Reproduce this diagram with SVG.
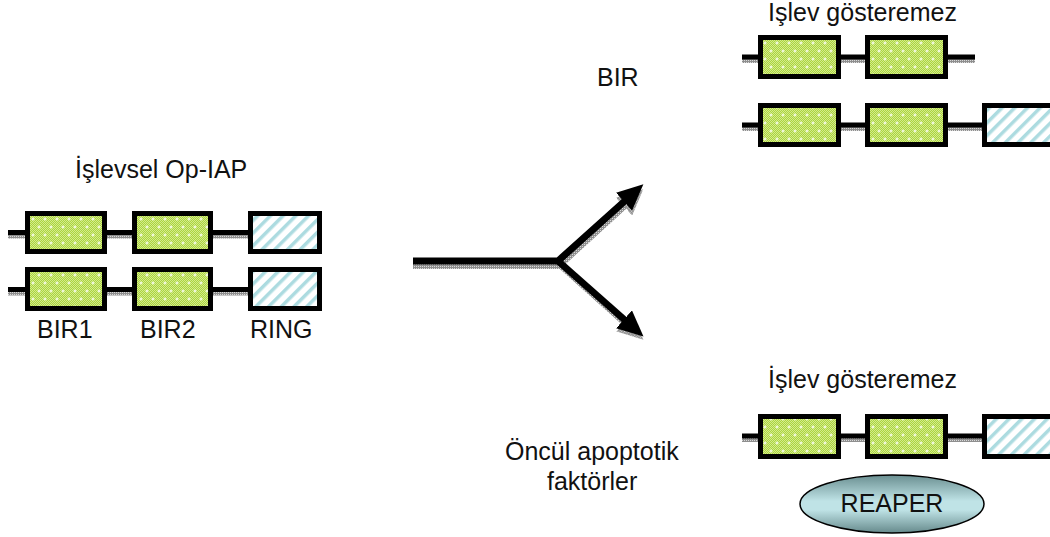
<svg xmlns="http://www.w3.org/2000/svg" width="1050" height="537" viewBox="0 0 1050 537">
  <defs>
    <style>
      text { font-family: "Liberation Sans", Arial, sans-serif; font-size: 25px; fill: #111; }
      .bir { fill: url(#birFill); stroke: #000; stroke-width: 5; }
      .ring { fill: url(#ringFill); stroke: #000; stroke-width: 5; }
      .link { stroke: #000; stroke-width: 5; fill: none; }
      .linkShadow { stroke: url(#shade); stroke-width: 4; fill: none; }
      .fork { stroke: #000; stroke-width: 7; fill: none; }
      .forkShadow { stroke: url(#shade); stroke-width: 6; fill: none; }
    </style>
    <!-- fine halftone used for the green domains -->
    <pattern id="dither" width="2" height="2" patternUnits="userSpaceOnUse">
      <rect width="2" height="2" fill="#acd43f"/>
      <rect width="1" height="1" fill="#d3ec8c"/>
      <rect x="1" y="1" width="1" height="1" fill="#d3ec8c"/>
    </pattern>
    <!-- green BIR domain fill: halftone plus small white crosses -->
    <pattern id="birFill" width="12" height="16" patternUnits="userSpaceOnUse">
      <rect width="12" height="16" fill="url(#dither)"/>
      <path d="M3 1.5v3M1.5 3h3M9 9.5v3M7.5 11h3" stroke="#fff" stroke-width="1"/>
    </pattern>
    <!-- RING domain fill: pale diagonal stripes -->
    <pattern id="ringFill" width="9" height="9" patternUnits="userSpaceOnUse" patternTransform="rotate(45)">
      <rect width="9" height="9" fill="#fff"/>
      <rect width="3.5" height="9" fill="#acdbe0"/>
    </pattern>
    <!-- grey stipple for line shadows -->
    <pattern id="shade" width="2" height="2" patternUnits="userSpaceOnUse">
      <rect width="2" height="2" fill="#8f8f8f"/>
      <rect width="1" height="1" fill="#d8d8d8"/>
    </pattern>
    <linearGradient id="reaperFill" x1="0" y1="0" x2="0" y2="1">
      <stop offset="0" stop-color="#6a8f91"/>
      <stop offset="0.45" stop-color="#bfe3e6"/>
      <stop offset="0.6" stop-color="#bfe3e6"/>
      <stop offset="1" stop-color="#668a8c"/>
    </linearGradient>
    <marker id="head" markerWidth="26" markerHeight="24" refX="4" refY="12" orient="auto" markerUnits="userSpaceOnUse">
      <path d="M0 0L26 12L0 24z" fill="#000"/>
    </marker>
    <marker id="headShadow" markerWidth="26" markerHeight="24" refX="4" refY="12" orient="auto" markerUnits="userSpaceOnUse">
      <path d="M0 0L26 12L0 24z" fill="url(#shade)"/>
    </marker>
  </defs>

  <!-- connectors: the branching arrow -->
  <g id="connectors">
    <path class="forkShadow" d="M413 266H559L627 204" marker-end="url(#headShadow)"/>
    <path class="forkShadow" d="M561 266L627 325" marker-end="url(#headShadow)"/>
    <path class="fork" d="M413 261H558L627 199" marker-end="url(#head)"/>
    <path class="fork" d="M558 261L627 322" marker-end="url(#head)"/>
  </g>

  <!-- functional Op-IAP (left) -->
  <g id="functional">
    <text x="75" y="178">İşlevsel Op-IAP</text>
    <path class="linkShadow" d="M8 236.5H250M8 293.5H250"/>
    <path class="link" d="M8 232.5H250M8 289.5H250"/>
    <rect class="bir" x="27.5" y="213.5" width="77" height="38"/>
    <rect class="bir" x="134.5" y="213.5" width="76" height="38"/>
    <rect class="ring" x="250.5" y="213.5" width="69" height="38"/>
    <rect class="bir" x="27.5" y="269.5" width="77" height="39"/>
    <rect class="bir" x="134.5" y="269.5" width="76" height="39"/>
    <rect class="ring" x="250.5" y="269.5" width="69" height="39"/>
    <text x="37" y="338">BIR1</text>
    <text x="140" y="338">BIR2</text>
    <text x="250" y="338">RING</text>
  </g>

  <!-- upper branch: BIR -->
  <text id="label-bir" x="597" y="86">BIR</text>
  <g id="nonfunctional-bir">
    <text x="768" y="21">Işlev gösteremez</text>
    <path class="linkShadow" d="M742 61H975M742 129H985"/>
    <path class="link" d="M742 57H975M742 125H985"/>
    <rect class="bir" x="760.5" y="37.5" width="78" height="39"/>
    <rect class="bir" x="867.5" y="37.5" width="78" height="39"/>
    <rect class="bir" x="760.5" y="105.5" width="78" height="39"/>
    <rect class="bir" x="867.5" y="105.5" width="78" height="39"/>
    <rect class="ring" x="984.5" y="105.5" width="78" height="39"/>
  </g>

  <!-- lower branch: pro-apoptotic factors -->
  <g id="label-proapoptotic">
    <text x="505" y="460">Öncül apoptotik</text>
    <text x="547" y="490">faktörler</text>
  </g>
  <g id="nonfunctional-reaper">
    <text x="768" y="388">İşlev gösteremez</text>
    <path class="linkShadow" d="M742 440H985"/>
    <path class="link" d="M742 436H985"/>
    <rect class="bir" x="760.5" y="416.5" width="78" height="40"/>
    <rect class="bir" x="867.5" y="416.5" width="78" height="40"/>
    <rect class="ring" x="984.5" y="416.5" width="78" height="40"/>
  </g>
  <g id="reaper">
    <ellipse cx="892" cy="504" rx="92" ry="29" fill="url(#reaperFill)" stroke="#000" stroke-width="1.5"/>
    <text x="892" y="512" text-anchor="middle">REAPER</text>
  </g>
</svg>
